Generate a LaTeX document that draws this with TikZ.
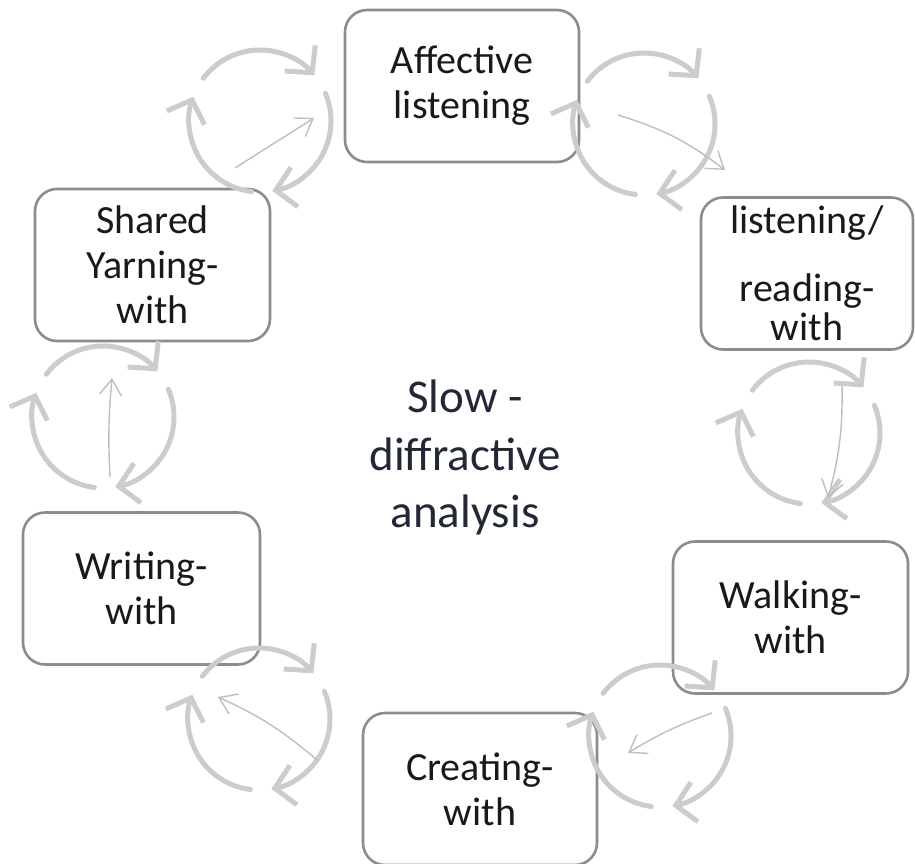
\documentclass[tikz,border=0pt]{standalone}
\usepackage{fontspec}
\setmainfont{Carlito}
\usetikzlibrary{arrows.meta,positioning,calc}
\definecolor{C_frame}{RGB}{140,140,140}
\definecolor{C_ring}{RGB}{204,204,204}
\definecolor{C_link}{RGB}{190,190,190}
\definecolor{C_ink}{RGB}{25,25,25}
\definecolor{C_core}{RGB}{35,40,55}

\begin{document}
\begin{tikzpicture}[x=1pt, y=1pt, every node/.style={font=\fontsize{40}{45}\selectfont}]
  \tikzset{
    stage/.style={rectangle, rounded corners=22pt, draw=C_frame, fill=white, line width=2.6pt, minimum width=234pt, minimum height=152pt, align=center, text=C_ink, inner sep=0pt},
    ring/.style={C_ring, line width=5pt, line cap=round, -{Straight Barb[length=19pt, width=40pt]}},
    link/.style={C_link, line width=1.4pt, -{Straight Barb[length=16pt, width=22pt]}}
  }
  \useasboundingbox (0,0) rectangle (915,863);

  \node[stage] (affective) at (462,777) {Affective\\listening};
  \node[stage, minimum width=212pt] (reading) at (807,589.5) {listening/\\[23pt]reading-\\[-6pt]with};
  \node[stage, minimum width=235pt] (walking) at (790.5,245.5) {Walking-\\with};
  \node[stage] (creating) at (480,74) {Creating-\\with};
  \node[stage, minimum width=237pt] (writing) at (141.5,274.5) {Writing-\\with};
  \node[stage, minimum width=235pt] (shared) at (152.5,598) {Shared\\Yarning-\\with};

  \node[text=C_core, font=\fontsize{47}{57.5}\selectfont, align=center] (core) at (465,405.5) {Slow -\\diffractive\\analysis};

  % turning loops between the stages
  \foreach \cx/\cy in {260/742, 644/739, 809/430, 103/446, 259/144, 660/127} {
    \foreach \a in {143,23,-97} {
      \draw[ring] ($(\cx,\cy)+(\a:71)$) arc[start angle=\a, end angle=\a-103, radius=71pt];
    }
  }

  \coordinate (l1a) at (235,695);
  \coordinate (l1b) at (314,745);
  \coordinate (l2a) at (618,748);
  \coordinate (l2b) at (725,693);
  \coordinate (l3a) at (842,478);
  \coordinate (l3b) at (828,365);
  \coordinate (l4a) at (110,386);
  \coordinate (l4b) at (112,485);
  \coordinate (l5a) at (317,103);
  \coordinate (l5b) at (218,166);
  \coordinate (l6a) at (712,150);
  \coordinate (l6b) at (628,110);

  \draw[link] (l1a) -- (l1b);
  \draw[link] (l2a) to[bend left=10] (l2b);
  \draw[link] (l3a) to[bend left=8] (l3b);
  \draw[link] (l4a) to[bend left=4] (l4b);
  \draw[link] (l5a) to[bend right=8] (l5b);
  \draw[link] (l6a) to[bend right=6] (l6b);
\end{tikzpicture}
\end{document}
